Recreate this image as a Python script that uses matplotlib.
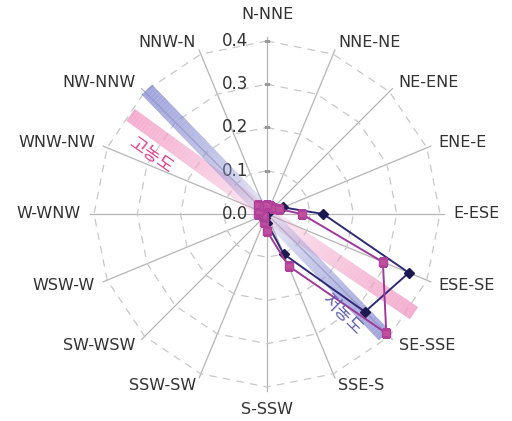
import numpy as np
import matplotlib
matplotlib.use("Agg")
import matplotlib.pyplot as plt
from matplotlib.collections import LineCollection
from matplotlib.transforms import offset_copy

plt.rcParams['font.family'] = ['DejaVu Sans', 'Noto Sans CJK KR']

# 16방위 구간
directions = ['N-NNE', 'NNE-NE', 'NE-ENE', 'ENE-E', 'E-ESE', 'ESE-SE', 'SE-SSE', 'SSE-S',
              'S-SSW', 'SSW-SW', 'SW-WSW', 'WSW-W', 'W-WNW', 'WNW-NW', 'NW-NNW', 'NNW-N']
# 풍향 빈도
low_freq = [0.01, 0.01, 0.01, 0.04, 0.13, 0.355, 0.32, 0.10,
            0.02, 0.01, 0.01, 0.01, 0.01, 0.01, 0.01, 0.01]
high_freq = [0.02, 0.02, 0.02, 0.03, 0.08, 0.29, 0.39, 0.13,
             0.04, 0.02, 0.01, 0.01, 0.02, 0.02, 0.03, 0.02]
r_ticks = [0.0, 0.1, 0.2, 0.3, 0.4]

# 주풍향 화살표 (방위각, 길이)
low_band = [(316, 0.40), (136, 0.39)]
high_band = [(306, 0.39), (124, 0.41)]

fig = plt.figure(figsize=(5.12, 4.21), dpi=100)
ax = fig.add_axes([0.1667, 0.0602, 0.7096, 0.863], projection='polar')
ax.set_theta_zero_location('N')
ax.set_theta_direction(-1)
ax.set_ylim(0, 0.42)
ax.grid(False)
ax.spines['polar'].set_visible(False)
ax.set_xticks([])
ax.set_yticks([])

theta = np.deg2rad(np.arange(16) * 22.5)
theta_c = np.append(theta, theta[0])

# 격자
for t in theta:
    ax.plot([t, t], [0, 0.41], color='#b5b5b5', lw=0.9, zorder=1)
for r in r_ticks[1:]:
    ax.plot(theta_c, [r] * 17, color='#c8c8c8', lw=0.9, ls=(0, (6, 5)), zorder=1)

# 반경 눈금
lab_tr = offset_copy(ax.transData, fig=fig, x=-19, y=0, units='dots')
for r in r_ticks:
    ax.plot([0], [r], marker='_', ms=5, mew=0.9, color='#999999', zorder=2)
    ax.text(0, r, f'{r:.1f}', transform=lab_tr, ha='right', va='center',
            fontsize=12, color='#333333')

# 방위 라벨
for t, name in zip(np.rad2deg(theta), directions):
    if t == 0:
        ax.text(0, 0.445, name, ha='center', va='bottom', fontsize=11.5, color='#333333')
    elif t == 180:
        ax.text(np.pi, 0.435, name, ha='center', va='top', fontsize=11.5, color='#333333')
    else:
        ha = 'left' if t < 180 else 'right'
        ax.text(np.deg2rad(t), 0.43, name, ha=ha, va='center', fontsize=11.5, color='#333333')


def band(ang, length, color, n=50, a1=0.8):
    rr = np.linspace(0, length, n + 1)
    t = np.deg2rad(ang)
    segs = [[(t, rr[i]), (t, rr[i + 1])] for i in range(n)]
    alphas = a1 * np.linspace(0.05, 1, n) ** 0.6
    cols = [matplotlib.colors.to_rgba(color, a) for a in alphas]
    lc = LineCollection(segs, colors=cols, linewidths=10.5, capstyle='butt', zorder=3)
    ax.add_collection(lc)


for ang, length in high_band:
    band(ang, length, '#f29ac4')
for ang, length in low_band:
    band(ang, length, '#8a8fd3')

# 풍향 빈도 계열
ax.plot(theta_c, low_freq + low_freq[:1], color='#2e2a78', lw=1.4, zorder=4,
        marker='D', ms=5, mfc='#1c1850', mec='#1c1850')
ax.plot(theta_c, high_freq + high_freq[:1], color='#a0389a', lw=1.4, zorder=4,
        marker='s', ms=5.5, mfc='#c04f9c', mec='#b0409a')

ax.text(np.deg2rad(297), 0.30, '고농도', rotation=-35, ha='center', va='center',
        fontsize=13, color='#e2408c', zorder=5)
ax.text(np.deg2rad(143), 0.29, '저농도', rotation=-45, ha='center', va='center',
        fontsize=13, color='#6262b0', zorder=5)

fig.savefig('out.png', dpi=100)
